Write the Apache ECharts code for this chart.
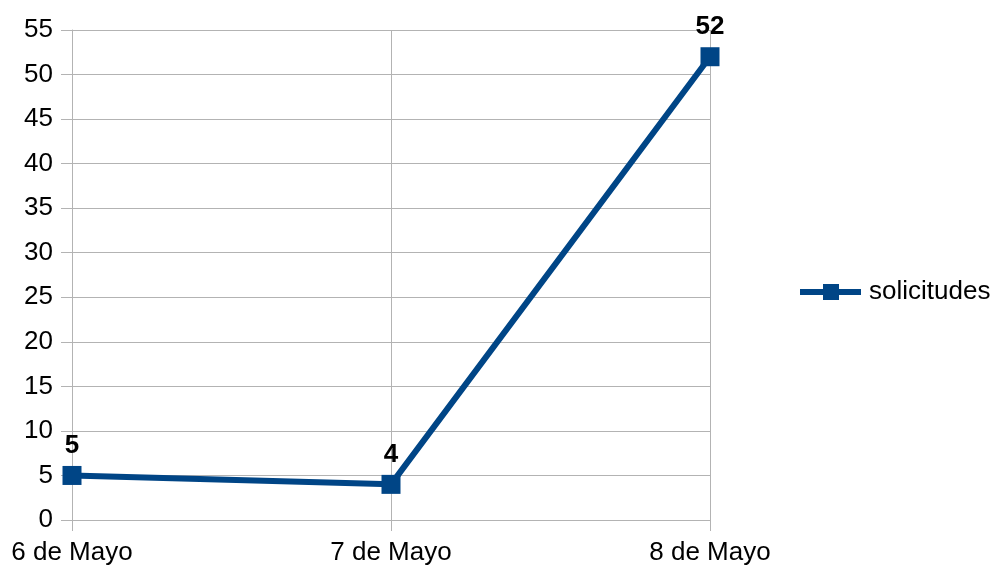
<!DOCTYPE html>
<html><head><meta charset="utf-8">
<script src="https://cdn.jsdelivr.net/npm/echarts@6/dist/echarts.min.js"></script>
<style>html,body{margin:0;padding:0;background:#fff}#c{width:994px;height:567px}</style>
</head><body><div id="c"></div>
<script>
const categories = ['6 de Mayo', '7 de Mayo', '8 de Mayo'];
const solicitudes = [5, 4, 52];
const yTicks = [0, 55, 5];
const seriesName = 'solicitudes';

const chart = echarts.init(document.getElementById('c'), null, {renderer: 'canvas'});
const gray = '#b3b3b3';
const font = 'Liberation Sans, Arial, sans-serif';
chart.setOption({
  animation: false,
  backgroundColor: '#fff',
  textStyle: {fontFamily: font},
  grid: {left: 72, right: 284, top: 30, bottom: 47, containLabel: false},
  legend: {
    data: [seriesName], orient: 'vertical', left: 800, top: 279, padding: 0,
    itemWidth: 61, itemHeight: 16, itemGap: 10,
    icon: 'path://M0,5 L23,5 L23,0 L39,0 L39,5 L61,5 L61,11 L39,11 L39,16 L23,16 L23,11 L0,11 Z',
    textStyle: {fontSize: 26, lineHeight: 26, color: '#000', fontFamily: font, padding: [0, 0, 0, 3]}
  },
  xAxis: {
    type: 'category', data: categories, boundaryGap: false,
    axisLine: {show: true, lineStyle: {color: gray, width: 1}},
    axisTick: {show: true, length: 11, lineStyle: {color: gray}},
    splitLine: {show: true, lineStyle: {color: gray, width: 1}},
    axisLabel: {fontSize: 26, color: '#000', margin: 20, fontFamily: font}
  },
  yAxis: {
    type: 'value', min: yTicks[0], max: yTicks[1], interval: yTicks[2],
    axisLine: {show: true, lineStyle: {color: gray, width: 1}},
    axisTick: {show: true, length: 11, lineStyle: {color: gray}},
    splitLine: {show: true, lineStyle: {color: gray, width: 1}},
    axisLabel: {fontSize: 26, color: '#000', margin: 19, fontFamily: font}
  },
  series: [{
    name: seriesName, type: 'line', data: solicitudes,
    symbol: 'rect', symbolSize: 19,
    lineStyle: {color: '#004586', width: 6},
    itemStyle: {color: '#004586'},
    label: {show: true, position: 'top', distance: 7, fontSize: 26, fontWeight: 'bold', color: '#000', fontFamily: font}
  }]
});
</script></body></html>
